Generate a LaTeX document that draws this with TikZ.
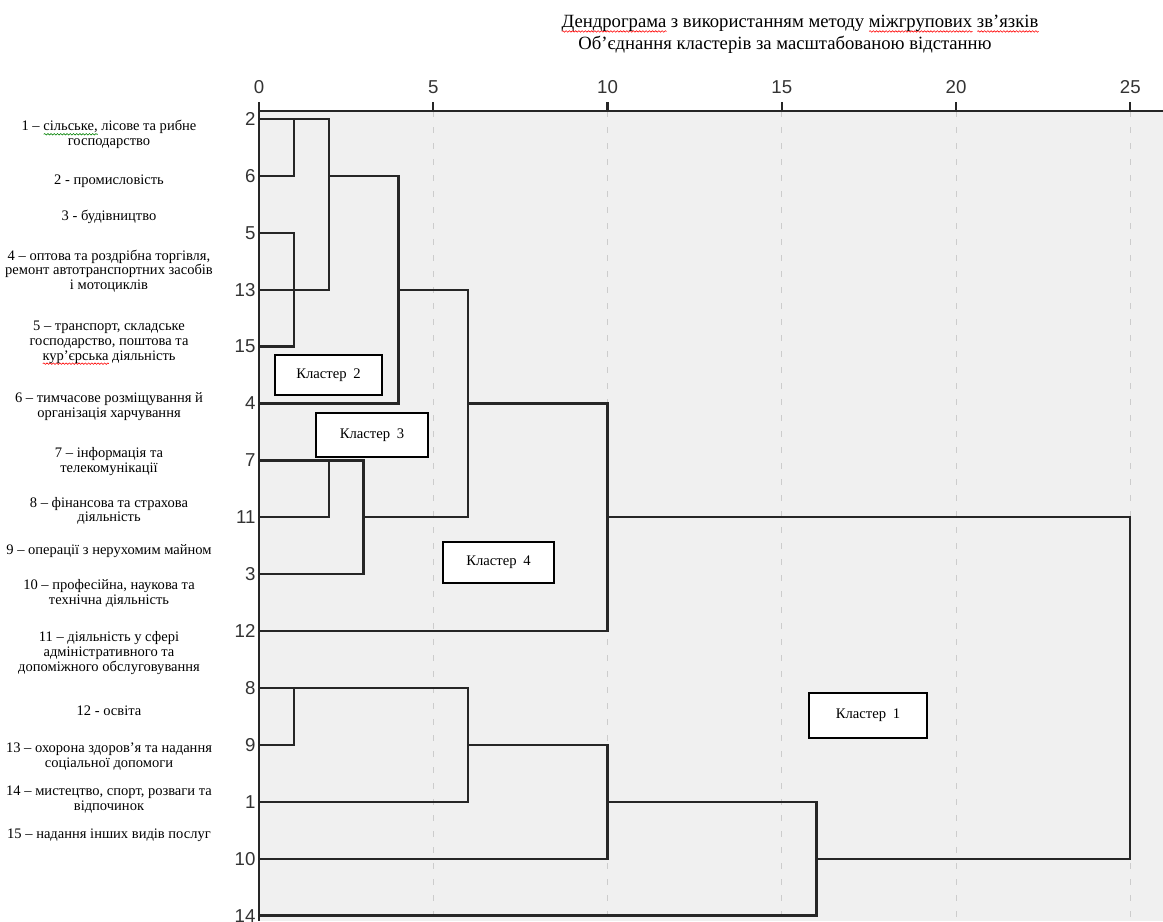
\documentclass[tikz,border=0pt]{standalone}
\usepackage{fontspec}
\setmainfont{Liberation Serif}
\newfontfamily\axisfont{Liberation Sans}
\usetikzlibrary{positioning, calc, decorations.pathmorphing}

\newsavebox\spellbox
\newcommand\spellmark[2]{\sbox\spellbox{#2}\rlap{\raisebox{-2.6pt}{\tikz[baseline=0pt]\draw[#1, line width=0.45pt, decorate, decoration={snake, amplitude=0.55pt, segment length=2.4pt}] (0pt,0pt) -- (\wd\spellbox,0pt);}}#2}

\begin{document}
\begin{tikzpicture}[x=0.75pt, y=-0.75pt,
  dendro/.style={draw=black!85, line width=1.7pt},
  gridline/.style={draw=black!20, line width=0.75pt, dash pattern=on 4.5pt off 7.5pt},
  leaf/.style={font=\axisfont\fontsize{14}{16}\selectfont, text=black!80, anchor=east, inner sep=1pt},
  ticklabel/.style={font=\axisfont\fontsize{14}{16}\selectfont, text=black!80, inner sep=1pt},
  legend/.style={font=\fontsize{10.9}{11}\selectfont, align=center, inner sep=0pt},
  heading/.style={font=\fontsize{14}{16.5}\selectfont, inner sep=0pt},
  clusterbox/.style={draw=black, line width=0.8pt, fill=white, font=\fontsize{11}{12}\selectfont, inner sep=0pt}]

\useasboundingbox (0,0) rectangle (1163,921);

% PLOT AREA
\fill[black!6] (259,111) rectangle (1163,921);
\coordinate (bottom) at (0,921);
\coordinate (axisR) at (1163,111);

% AXIS
\foreach \d in {0,...,25} \coordinate (d\d) at ({259+34.85*\d},111);
\foreach \d in {5,10,...,25} \draw[gridline] (d\d) -- (d\d |- bottom);
\draw[dendro] (d0) -- (axisR);
\draw[dendro] (d0) -- (d0 |- bottom);
\foreach \d in {0,5,...,25} {
  \draw[dendro] (d\d) -- ++(0,-9) coordinate (tk\d);
  \node[ticklabel, above=5pt of tk\d] (n\d) {\d};
}

% LEAVES
\foreach \n [count=\i from 0] in {2,6,5,13,15,4,7,11,3,12,8,9,1,10,14} {
  \coordinate (r\n) at (259,{119+56.9*\i});
  \node[leaf] (l\n) at ($(r\n)+(-2,0)$) {\n};
}

% LINKS
\draw[dendro] (r2) -- (r2-|d2) -- (r13-|d2) -- (r13);
\draw[dendro] (r2-|d1) -- (r6-|d1) -- (r6);
\draw[dendro] (r5) -- (r5-|d1) -- (r15-|d1) -- (r15);
\draw[dendro] (r6-|d2) -- (r6-|d4) -- (r4-|d4) -- (r4);
\draw[dendro] (r13-|d4) -- (r13-|d6) -- (r11-|d6) -- (r11-|d3);
\draw[dendro] (r7) -- (r7-|d3) -- (r3-|d3) -- (r3);
\draw[dendro] (r7-|d2) -- (r11-|d2) -- (r11);
\draw[dendro] (r4-|d6) -- (r4-|d10) -- (r12-|d10) -- (r12);
\draw[dendro] (r11-|d10) -- (r11-|d25) -- (r10-|d25) -- (r10-|d16);
\draw[dendro] (r8) -- (r8-|d6) -- (r1-|d6) -- (r1);
\draw[dendro] (r8-|d1) -- (r9-|d1) -- (r9);
\draw[dendro] (r9-|d6) -- (r9-|d10) -- (r10-|d10) -- (r10);
\draw[dendro] (r1-|d10) -- (r1-|d16) -- (r14-|d16) -- (r14);

% CLUSTERS
\node[clusterbox, minimum width=80.25pt, minimum height=30pt] (k2) at (328.5,375) {Кластер\hspace{0.45em}2};
\node[clusterbox, minimum width=84pt, minimum height=33pt] (k3) at (372,435) {Кластер\hspace{0.45em}3};
\node[clusterbox, minimum width=83.25pt, minimum height=30.75pt] (k4) at (498.5,562.5) {Кластер\hspace{0.45em}4};
\node[clusterbox, minimum width=88.5pt, minimum height=33.75pt] (k1) at (868,715.5) {Кластер\hspace{0.45em}1};

% LEGEND
\node[legend] (leg1) at (109,134.5) {1 – \spellmark{green!50!black}{сільське,} лісове та рибне\\господарство};
\node[legend] (leg2) at (109,181) {2 - промисловість};
\node[legend] (leg3) at (109,217) {3 - будівництво};
\node[legend] (leg4) at (109,271) {4 – оптова та роздрібна торгівля,\\ремонт автотранспортних засобів\\і мотоциклів};
\node[legend] (leg5) at (109,343) {5 – транспорт, складське\\господарство, поштова та\\\spellmark{red}{кур’єрська} діяльність};
\node[legend] (leg6) at (109,406.5) {6 – тимчасове розміщування й\\організація харчування};
\node[legend] (leg7) at (109,461.5) {7 – інформація та\\телекомунікації};
\node[legend] (leg8) at (109,511) {8 – фінансова та страхова\\діяльність};
\node[legend] (leg9) at (109,551) {9 – операції з нерухомим майном};
\node[legend] (leg10) at (109,593.5) {10 – професійна, наукова та\\технічна діяльність};
\node[legend] (leg11) at (109,653) {11 – діяльність у сфері\\адміністративного та\\допоміжного обслуговування};
\node[legend] (leg12) at (109,711) {12 - освіта};
\node[legend] (leg13) at (109,756.5) {13 – охорона здоров’я та надання\\соціальної допомоги};
\node[legend] (leg14) at (109,799.5) {14 – мистецтво, спорт, розваги та\\відпочинок};
\node[legend] (leg15) at (109,835) {15 – надання інших видів послуг};

% TITLE
\node[heading] (title) at (800,24)
  {\spellmark{red}{Дендрограма} з використанням методу \spellmark{red}{міжгрупових} \spellmark{red}{зв’язків}};
\node[heading] (subtitle) at (785,45) {Об’єднання кластерів за масштабованою відстанню};

\end{tikzpicture}
\end{document}
